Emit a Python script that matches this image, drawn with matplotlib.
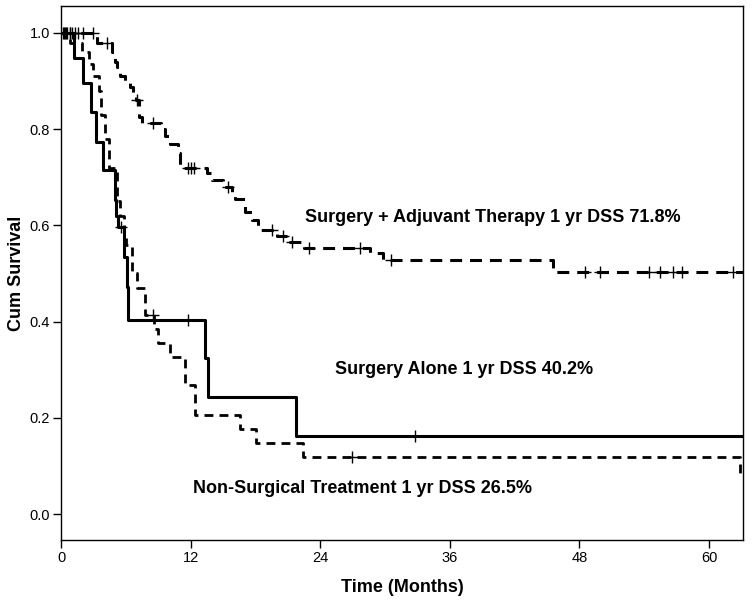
import numpy as np
import matplotlib
matplotlib.use("Agg")
import matplotlib.pyplot as plt

plt.rcParams['font.family'] = ['Liberation Sans', 'DejaVu Sans']

# Kaplan-Meier steps (months, cumulative survival)
adj_times = [0, 3.3, 4.7, 5.0, 5.2, 5.5, 5.9, 6.4, 6.7, 6.9, 7.2, 7.5, 9.3, 9.6, 10.1, 10.8,
             11.0, 13.5, 14.0, 15.0, 15.8, 16.1, 17.0, 17.7, 18.2, 20.0, 21.0, 22.5, 28.6,
             29.8, 45.6]
adj_surv = [1.0, 0.98, 0.96, 0.94, 0.93, 0.91, 0.90, 0.888, 0.875, 0.86, 0.826, 0.813, 0.80,
            0.785, 0.77, 0.75, 0.72, 0.709, 0.695, 0.68, 0.667, 0.655, 0.628, 0.611, 0.59,
            0.578, 0.566, 0.553, 0.543, 0.528, 0.503]
adj_cens = [0.3, 0.5, 0.8, 1.0, 1.3, 1.6, 2.0, 3.0, 4.3, 7.0, 8.5, 11.8, 12.0, 12.3, 15.5,
            19.5, 20.6, 21.4, 23.0, 27.7, 30.6, 48.5, 49.9, 54.4, 55.5, 56.7, 57.5, 62.2]

alone_times = [0, 1.2, 2.0, 2.8, 3.2, 3.9, 5.0, 5.1, 5.3, 5.8, 6.1, 6.2, 13.3, 13.6, 21.8]
alone_surv = [1.0, 0.948, 0.896, 0.836, 0.774, 0.715, 0.653, 0.62, 0.597, 0.534, 0.472,
              0.403, 0.324, 0.243, 0.162]
alone_cens = [0.2, 0.4, 0.6, 0.8, 5.6, 11.8, 32.8]

nonsurg_times = [0, 0.8, 1.9, 2.6, 3.0, 3.5, 3.7, 4.1, 4.4, 5.2, 5.5, 5.8, 6.0, 6.6, 7.0, 7.8,
                 8.6, 9.0, 10.1, 11.5, 12.4, 16.6, 18.1, 22.4, 62.9]
nonsurg_surv = [1.0, 0.98, 0.96, 0.935, 0.91, 0.88, 0.83, 0.78, 0.72, 0.65, 0.62, 0.58, 0.56,
                0.50, 0.47, 0.413, 0.385, 0.355, 0.326, 0.268, 0.206, 0.176, 0.147, 0.118,
                0.085]
nonsurg_cens = [8.5, 26.9]

x_max = 63.15
x_ticks = [0, 12, 24, 36, 48, 60]
y_ticks = [0.0, 0.2, 0.4, 0.6, 0.8, 1.0]


def step_at(times, surv, t):
    i = np.searchsorted(times, t, side='right') - 1
    return np.array(surv)[i]


def km(ax, times, surv, cens, dashes, lw):
    t = list(times) + [x_max]
    s = list(surv) + [surv[-1]]
    line, = ax.plot(t, s, drawstyle='steps-post', color='black', lw=lw,
                    solid_capstyle='butt', dash_capstyle='butt')
    if dashes:
        line.set_dashes(dashes)
    ct = np.array(cens)
    ax.plot(ct, step_at(times, surv, ct), '+', color='black', ms=8, mew=1.0)


fig = plt.figure(figsize=(7.54, 6.04), dpi=100)
ax = fig.add_axes([61 / 754, 64 / 604, 682 / 754, 534 / 604])

km(ax, adj_times, adj_surv, adj_cens, (3.9, 2.6), 2.2)
km(ax, alone_times, alone_surv, alone_cens, None, 2.2)
km(ax, nonsurg_times, nonsurg_surv, nonsurg_cens, (3.2, 2.2), 2.0)

ax.set_xlim(0, x_max)
ax.set_ylim(-0.054, 1.056)
ax.set_xticks(x_ticks)
ax.set_xticklabels([str(v) for v in x_ticks])
ax.set_yticks(y_ticks)
ax.set_yticklabels(['%.1f' % v for v in y_ticks])
ax.tick_params(direction='out', length=6, width=1, labelsize=10.5, colors='black', pad=2)
for sp in ax.spines.values():
    sp.set_linewidth(1)

ax.set_xlabel('Time (Months)', fontsize=13, fontweight='bold', labelpad=10)
ax.set_ylabel('Cum Survival', fontsize=13, fontweight='bold', labelpad=3)

tkw = dict(fontsize=13, fontweight='bold', va='center', ha='left')
ax.text(22.6, 0.617, 'Surgery + Adjuvant Therapy 1 yr DSS 71.8%', **tkw)
ax.text(25.4, 0.30, 'Surgery Alone 1 yr DSS 40.2%', **tkw)
ax.text(12.2, 0.054, 'Non-Surgical Treatment 1 yr DSS 26.5%', **tkw)

fig.savefig('out.png', dpi=100)
